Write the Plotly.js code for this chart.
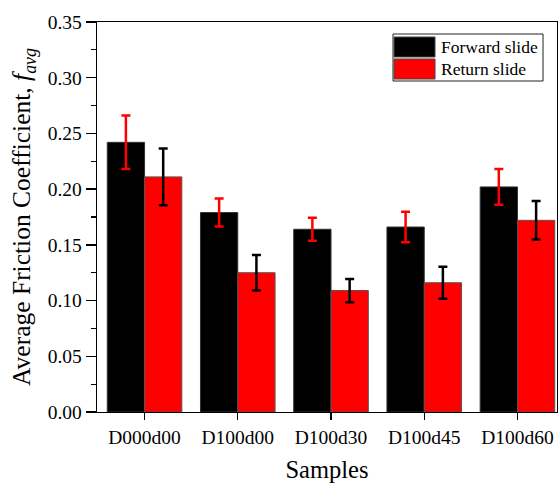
<!DOCTYPE html>
<html>
<head>
<meta charset="utf-8">
<script src="https://cdn.plot.ly/plotly-3.0.1.min.js"></script>
<style>html,body{margin:0;padding:0;background:#fff;}</style>
</head>
<body>
<div id="chart" style="width:558px;height:483px;"></div>
<script>
const samples = ["D000d00", "D100d00", "D100d30", "D100d45", "D100d60"];
const seriesNames = ["Forward slide", "Return slide"];
const forwardVals = [0.242, 0.179, 0.164, 0.166, 0.202];
const forwardErr = [0.024, 0.0126, 0.0103, 0.0137, 0.016];
const returnVals = [0.211, 0.125, 0.109, 0.116, 0.172];
const returnErr = [0.0255, 0.016, 0.0104, 0.0144, 0.0173];

const serif = "Liberation Serif, Times New Roman, serif";
const barColors = ["#000000", "#ff0000"];

const data = [
  {
    type: "bar", name: seriesNames[0], x: samples, y: forwardVals,
    marker: {color: barColors[0], line: {color: "#333333", width: 1}},
    error_y: {type: "data", array: forwardErr, visible: true, color: "#ff0000", thickness: 2.5, width: 4.5}
  },
  {
    type: "bar", name: seriesNames[1], x: samples, y: returnVals,
    marker: {color: barColors[1], line: {color: "#555555", width: 1}},
    error_y: {type: "data", array: returnErr, visible: true, color: "#000000", thickness: 2.5, width: 4.5}
  }
];

// Custom legend (box, swatches, labels) in plot-area paper coordinates
const shapes = [
  {type: "rect", xref: "paper", yref: "paper", x0: 0.6435, x1: 0.9696, y0: 0.8487, y1: 0.9692,
   line: {color: "#222222", width: 1}, fillcolor: "#ffffff", layer: "above"},
  {type: "rect", xref: "paper", yref: "paper", x0: 0.6457, x1: 0.7348, y0: 0.9103, y1: 0.9615,
   line: {color: "#444444", width: 1}, fillcolor: barColors[0], layer: "above"},
  {type: "rect", xref: "paper", yref: "paper", x0: 0.6457, x1: 0.7348, y0: 0.8538, y1: 0.9051,
   line: {color: "#444444", width: 1}, fillcolor: barColors[1], layer: "above"}
];
const annotations = [
  {xref: "paper", yref: "paper", x: 0.7435, y: 0.936, xanchor: "left", yanchor: "middle", showarrow: false,
   text: seriesNames[0], font: {family: serif, size: 17.5, color: "#000000"}},
  {xref: "paper", yref: "paper", x: 0.7435, y: 0.879, xanchor: "left", yanchor: "middle", showarrow: false,
   text: seriesNames[1], font: {family: serif, size: 17.5, color: "#000000"}}
];

const layout = {
  width: 558, height: 483,
  margin: {l: 97, r: 1, t: 22, b: 71},
  paper_bgcolor: "#ffffff", plot_bgcolor: "#ffffff",
  font: {family: serif, color: "#000000"},
  barmode: "group", bargap: 0.2, bargroupgap: 0,
  showlegend: false,
  shapes: shapes,
  annotations: annotations,
  xaxis: {
    range: [-0.51, 4.424],
    showline: true, linecolor: "#000000", linewidth: 1.3, mirror: true,
    ticks: "outside", ticklen: 7, tickwidth: 1.3, tickcolor: "#000000",
    tickfont: {family: serif, size: 19.5, color: "#000000"},
    showgrid: false, zeroline: false,
    title: {text: "Samples", font: {family: serif, size: 24.5, color: "#000000"}, standoff: 17}
  },
  yaxis: {
    range: [0, 0.35],
    tickmode: "linear", tick0: 0, dtick: 0.05, tickformat: ".2f",
    showline: true, linecolor: "#000000", linewidth: 1.3, mirror: true,
    ticks: "outside", ticklen: 10, tickwidth: 1.3, tickcolor: "#000000",
    minor: {ticks: "outside", ticklen: 5, tickwidth: 1.2, tickcolor: "#000000", dtick: 0.025, showgrid: false},
    tickfont: {family: serif, size: 19.5, color: "#000000"},
    showgrid: false, zeroline: false,
    title: {text: "Average Friction Coefficient, <i>f</i><sub><i>avg</i></sub>", font: {family: serif, size: 25.5, color: "#000000"}, standoff: 9}
  }
};

Plotly.newPlot("chart", data, layout, {displayModeBar: false, staticPlot: true});
</script>
</body>
</html>
